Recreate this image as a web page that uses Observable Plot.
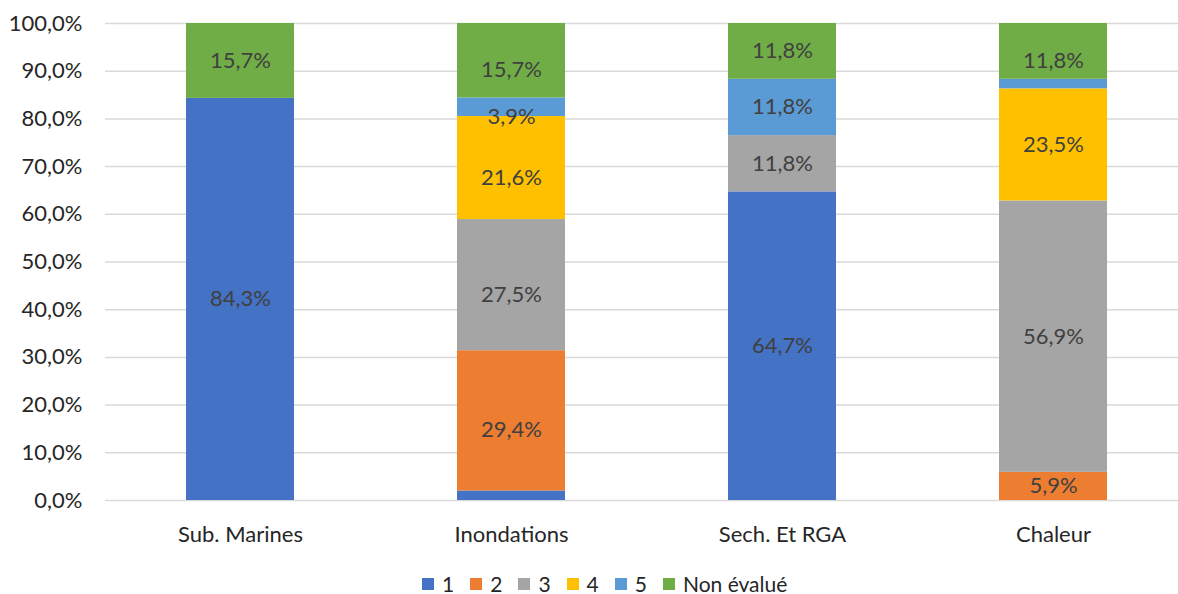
<!DOCTYPE html>
<html><head><meta charset="utf-8">
<script src="https://cdn.jsdelivr.net/npm/d3@7"></script>
<script src="https://cdn.jsdelivr.net/npm/@observablehq/plot@0.6"></script>
<style>
body{margin:0;background:#fff;font-family:Lato,"Noto Sans",sans-serif;overflow:hidden;}
#wrap{position:relative;width:1178px;height:594px;}
#legend{position:absolute;left:422px;top:574px;height:20px;line-height:20px;display:flex;align-items:center;font-size:21px;color:#262626;}
#legend .it{display:flex;align-items:center;margin-right:16px;}
#legend .sw{width:12px;height:12px;margin-right:8px;}
</style>
</head><body><div id="wrap"><div id="chart"></div><div id="legend"></div></div>
<script>
const categories = ["Sub. Marines", "Inondations", "Sech. Et RGA", "Chaleur"];
const seriesNames = ["1", "2", "3", "4", "5", "Non évalué"];
const s1 = [84.3, 2.0, 64.7, 0];
const s2 = [0, 29.4, 0, 5.9];
const s3 = [0, 27.5, 11.8, 56.9];
const s4 = [0, 21.6, 0, 23.5];
const s5 = [0, 3.9, 11.8, 2.0];
const sNE = [15.7, 15.7, 11.8, 11.8];
const yTicks = [0, 10, 20, 30, 40, 50, 60, 70, 80, 90, 100];
const colors = ["#4472C4", "#ED7D31", "#A5A5A5", "#FFC000", "#5B9BD5", "#70AD47"];

const seriesValues = [s1, s2, s3, s4, s5, sNE];
const data = [];
seriesNames.forEach((s, i) => {
  categories.forEach((c, j) => data.push({cat: c, series: s, value: seriesValues[i][j]}));
});
const fmt = v => v.toFixed(1).replace(".", ",") + "%";

const plot = Plot.plot({
  width: 1178,
  height: 555,
  marginTop: 23,
  marginBottom: 55,
  marginLeft: 105,
  marginRight: 0,
  style: {fontFamily: "Lato, 'Noto Sans', sans-serif", fontSize: "22px", color: "#262626", background: "#fff"},
  x: {domain: categories, range: [104, 1190], paddingInner: 0.6, paddingOuter: 0.3, label: null, tickSize: 0, tickPadding: 26},
  y: {domain: [0, 100], ticks: yTicks, tickFormat: fmt, label: null, tickSize: 0, tickPadding: 23, clamp: true},
  color: {domain: seriesNames, range: colors},
  marks: [
    Plot.ruleY(yTicks, {stroke: "#d9d9d9", strokeWidth: 1.5, strokeOpacity: 1}),
    Plot.barY(data, {x: "cat", y: "value", fill: "series", order: seriesNames}),
    Plot.text(data, Plot.stackY({
      filter: d => d.value >= 3, x: "cat", y: "value", z: "series", order: seriesNames,
      text: d => fmt(d.value), fill: "#404040", fontSize: 22
    }))
  ]
});
document.getElementById("chart").appendChild(plot);

const legend = document.getElementById("legend");
seriesNames.forEach((s, i) => {
  const it = document.createElement("div"); it.className = "it";
  const sw = document.createElement("div"); sw.className = "sw"; sw.style.background = colors[i];
  const t = document.createElement("span"); t.textContent = s;
  it.appendChild(sw); it.appendChild(t); legend.appendChild(it);
});
</script>
</body></html>
